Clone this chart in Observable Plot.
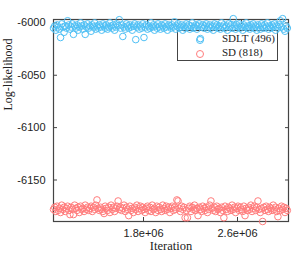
<!DOCTYPE html>
<html><head><meta charset="utf-8">
<script src="https://cdn.jsdelivr.net/npm/d3@7"></script>
<script src="https://cdn.jsdelivr.net/npm/@observablehq/plot@0.6"></script>
<style>
body{margin:0;background:#fff;}
#wrap{position:relative;width:299px;height:257px;}
#legend{position:absolute;left:177px;top:30px;width:99px;height:29px;border:1px solid #444;background:#fff;font-family:"Liberation Serif",serif;font-size:11px;color:#222;z-index:0;}
#chart{position:absolute;left:0;top:0;z-index:1;}
.li{position:absolute;left:44px;}
.mk{position:absolute;left:18px;width:6px;height:6px;border-radius:50%;}
</style>
</head><body>
<div id="wrap"><div id="legend"></div><div id="chart"></div></div>
<script>
const seriesNames = ["SDLT (496)", "SD (818)"];
const seriesColors = ["#4fc0f5", "#ff7d7d"];
const iterStart = 1000000, iterStep = 10000;
const xTicks = [1800000, 2600000];
const yTicks = [-6000, -6050, -6100, -6150];
const sdlt = [
-6005,-6003,-6007,-6002,-6004,-6006,-6014,-6001,-6004,-6009,
-6003,-6005,-5998,-6002,-6006,-6004,-6001,-6011,-6003,-6005,
-6002,-6007,-6004,-6000,-6003,-6006,-6002,-6011,-6004,-6001,
-6005,-6003,-6008,-6002,-6004,-6000,-6006,-6003,-6005,-6002,
-6004,-6007,-6001,-6003,-6005,-6002,-6006,-6004,-6000,-6003,
-6005,-6002,-6007,-6004,-6001,-6003,-5997,-6005,-6002,-6013,
-6004,-6006,-6001,-6003,-6005,-6002,-6004,-6007,-6003,-6001,
-6016,-6004,-6002,-6006,-6003,-6005,-6001,-6014,-6004,-6002,
-6006,-6003,-6005,-6000,-6004,-6002,-6007,-6003,-6005,-6001,
-6004,-6006,-6002,-6003,-6005,-6001,-6004,-6007,-6002,-6003,
-6005,-6002,-6004,-5999,-6006,-6003,-6001,-6005,-6004,-6002,
-6007,-6003,-6005,-6001,-6004,-6002,-6006,-6003,-6000,-6005,
-6004,-6002,-6006,-6003,-6001,-6015,-6004,-6002,-6005,-6003,
-6001,-6006,-6004,-6002,-6005,-6003,-6007,-6001,-6004,-6002,
-6005,-6003,-6006,-6000,-6004,-6002,-6005,-6003,-6007,-6001,
-6004,-6002,-6005,-5996,-6003,-6006,-6002,-6004,-6001,-6005,
-6003,-6007,-6002,-6004,-6000,-6005,-6003,-6006,-6002,-6004,
-6001,-6005,-6003,-6007,-6002,-6004,-6006,-6001,-6003,-6005,
-6002,-6004,-6000,-6006,-6003,-6005,-6002,-6004,-6001,-6007,
-6003,-6005,-6002,-5998,-6004,-5996,-6006,-6008,-6003,-6005];
const sd = [
-6178,-6176,-6180,-6175,-6179,-6177,-6181,-6174,-6178,-6176,
-6180,-6177,-6175,-6179,-6183,-6176,-6178,-6183,-6174,-6177,
-6179,-6176,-6181,-6175,-6178,-6177,-6180,-6174,-6178,-6176,
-6179,-6177,-6175,-6180,-6176,-6178,-6174,-6169,-6177,-6179,
-6176,-6178,-6180,-6182,-6175,-6177,-6179,-6176,-6181,-6174,
-6178,-6176,-6180,-6177,-6175,-6170,-6178,-6176,-6179,-6177,
-6174,-6180,-6176,-6178,-6184,-6175,-6179,-6177,-6181,-6176,
-6178,-6174,-6180,-6177,-6175,-6179,-6176,-6178,-6181,-6177,
-6175,-6179,-6176,-6180,-6174,-6178,-6177,-6181,-6175,-6179,
-6176,-6178,-6180,-6174,-6177,-6179,-6175,-6178,-6176,-6181,
-6177,-6175,-6179,-6176,-6178,-6169,-6170,-6177,-6180,-6175,
-6178,-6176,-6186,-6179,-6186,-6177,-6175,-6180,-6176,-6178,
-6174,-6179,-6177,-6184,-6176,-6178,-6180,-6175,-6177,-6179,
-6176,-6181,-6178,-6174,-6170,-6177,-6179,-6176,-6180,-6175,
-6178,-6177,-6181,-6176,-6179,-6186,-6175,-6178,-6180,-6176,
-6177,-6179,-6174,-6178,-6176,-6181,-6177,-6175,-6179,-6176,
-6178,-6180,-6175,-6184,-6177,-6179,-6176,-6178,-6174,-6180,
-6177,-6175,-6179,-6176,-6170,-6178,-6181,-6177,-6189.6,-6176,
-6179,-6175,-6178,-6180,-6176,-6177,-6179,-6174,-6178,-6176,
-6180,-6185,-6177,-6179,-6175,-6178,-6176,-6181,-6177,-6179];

const rows = [];
[sdlt, sd].forEach((arr, s) => arr.forEach((v, i) => rows.push({iter: iterStart + i * iterStep, ll: v, s: seriesNames[s]})));

const fmt = d => d.toExponential(1).replace(/e\+(\d)$/, "e+0$1");
const frameColor = "#444";
const plot = Plot.plot({
  width: 299, height: 257,
  marginLeft: 53, marginTop: 19, marginRight: 11, marginBottom: 36,
  style: {background: "transparent", fontFamily: "'Liberation Sans', Arial, sans-serif", fontSize: "11px", color: "#222"},
  x: {domain: [1000000, 3000000]},
  y: {domain: [-6189.6, -5996.8]},
  color: {domain: seriesNames, range: seriesColors},
  marks: [
    Plot.axisX({ticks: xTicks, tickFormat: fmt, tickSize: -4, tickPadding: 12, dx: -4, label: null, stroke: frameColor}),
    Plot.axisX({anchor: "top", ticks: xTicks, tickFormat: () => "", tickSize: -4, label: null, stroke: frameColor}),
    Plot.axisY({ticks: yTicks, tickFormat: d => String(d), tickSize: -4, tickPadding: 12, label: null, stroke: frameColor}),
    Plot.axisY({anchor: "right", ticks: yTicks, tickFormat: () => "", tickSize: -4, label: null, stroke: frameColor}),
    Plot.frame({stroke: frameColor, strokeWidth: 1.2}),
    Plot.dot(rows, {x: "iter", y: "ll", stroke: "s", r: 3.3, strokeWidth: 1}),
    Plot.text(["Log-likelihood"], {frameAnchor: "left", rotate: -90, dx: -45, dy: -10, fontFamily: "'Liberation Serif', serif", fontSize: 12, style: "letter-spacing:1.6px"}),
    Plot.text(["Iteration"], {frameAnchor: "bottom", dy: 28, fontFamily: "'Liberation Serif', serif", fontSize: 12.5})
  ]
});
document.getElementById("chart").appendChild(plot);

const leg = document.getElementById("legend");
seriesNames.forEach((n, i) => {
  const top = 4 + i * 14;
  const mk = document.createElement("div");
  mk.className = "mk";
  mk.style.top = (top + 1) + "px";
  mk.style.border = "1px solid " + seriesColors[i];
  leg.appendChild(mk);
  const t = document.createElement("div");
  t.className = "li";
  t.style.top = (top - 3) + "px";
  t.textContent = n;
  leg.appendChild(t);
});
</script>
</body></html>
